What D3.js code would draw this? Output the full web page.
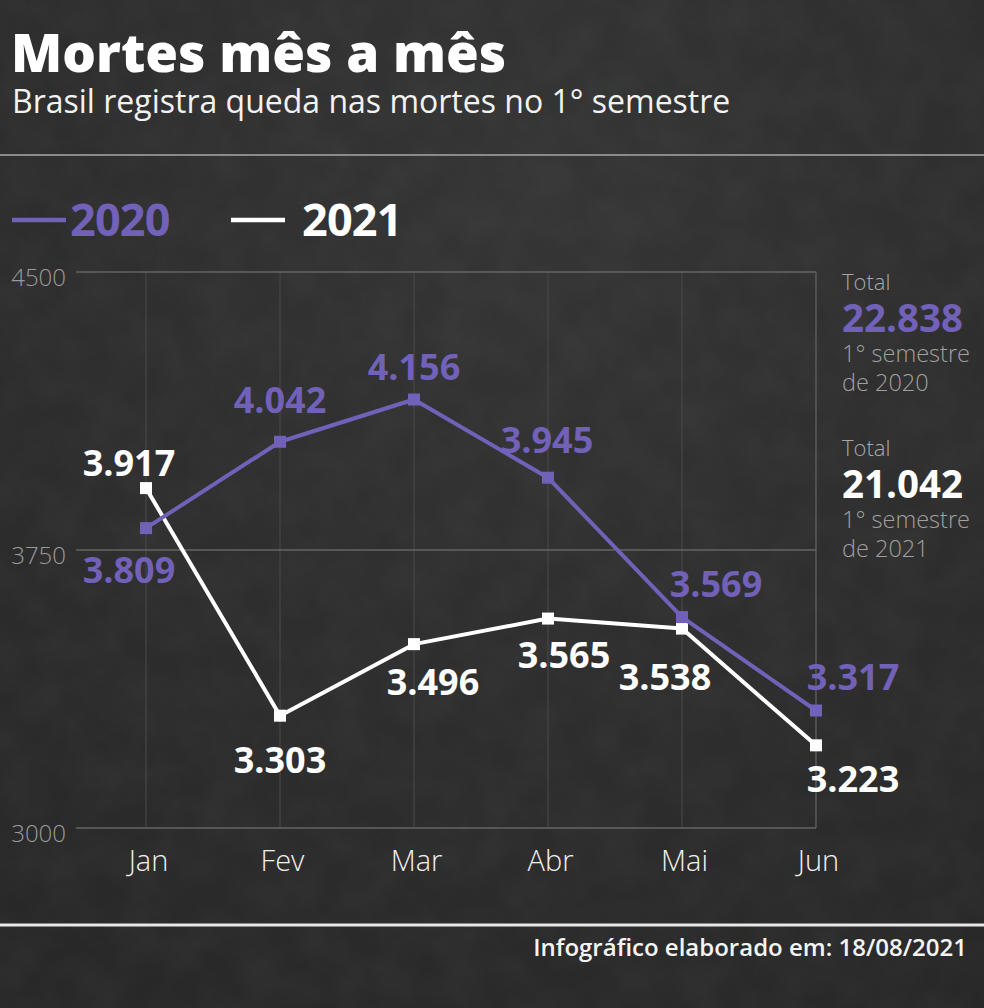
<!DOCTYPE html>
<html>
<head>
<meta charset="utf-8">
<script src="https://cdn.jsdelivr.net/npm/d3@7/dist/d3.min.js"></script>
<style>
  html, body { margin: 0; padding: 0; background: #2b2b2b; }
  svg { display: block; }
  text { font-family: "Open Sans", "Noto Sans", "DejaVu Sans", sans-serif; }
</style>
</head>
<body>
<svg id="chart" width="984" height="1008"></svg>
<script>
// ---- data ----
const months = ["Jan", "Fev", "Mar", "Abr", "Mai", "Jun"];
const deaths2020 = [3809, 4042, 4156, 3945, 3569, 3317];
const deaths2021 = [3917, 3303, 3496, 3565, 3538, 3223];
const yTicks = [3000, 3750, 4500];
const seriesNames = ["2020", "2021"];
const totals = ["22.838", "21.042"];
const title = "Mortes mês a mês";
const subtitle = "Brasil registra queda nas mortes no 1° semestre";
const footer = "Infográfico elaborado em: 18/08/2021";

// ---- layout (label offsets relative to each point: [dx, dy]) ----
const off2020 = [[-17, 55], [0, -29], [0, -20], [-1, -25], [34, -20], [37, -20]];
const off2021 = [[-17, -12], [0, 57], [19, 51], [16, 49], [-17, 61], [37, 47]];

const W = 984, H = 1008;
const PURPLE = "#7161b9";
const WHITE = "#ffffff";

const svg = d3.select("#chart");
const defs = svg.append("defs");

// background gradient + subtle chalk texture
const grad = defs.append("radialGradient").attr("id", "bg").attr("cx", "55%").attr("cy", "20%").attr("r", "90%");
grad.append("stop").attr("offset", "0%").attr("stop-color", "#353535");
grad.append("stop").attr("offset", "100%").attr("stop-color", "#282828");
const f = defs.append("filter").attr("id", "noise").attr("x", 0).attr("y", 0).attr("width", "100%").attr("height", "100%");
f.append("feTurbulence").attr("type", "fractalNoise").attr("baseFrequency", "0.025").attr("numOctaves", 4).attr("seed", 7).attr("result", "t");
f.append("feColorMatrix").attr("type", "matrix")
  .attr("values", "0 0 0 0 0.5  0 0 0 0 0.5  0 0 0 0 0.5  0.3 0 0 0 -0.08");
svg.append("rect").attr("width", W).attr("height", H).attr("fill", "url(#bg)");
svg.append("rect").attr("width", W).attr("height", H).attr("filter", "url(#noise)").attr("opacity", 0.25);

// ---- title ----
svg.append("text").attr("x", 11).attr("y", 72).attr("fill", "#fff")
  .attr("font-size", 53).attr("font-weight", 800).text(title);
svg.append("text").attr("x", 12).attr("y", 113).attr("fill", "#f2f2f2")
  .attr("font-size", 32).attr("font-weight", 400).text(subtitle);
svg.append("line").attr("x1", 0).attr("x2", W).attr("y1", 155).attr("y2", 155)
  .attr("stroke", "#8a8a8a").attr("stroke-width", 2);

// ---- legend ----
const legend = svg.append("g");
const legItems = [{ name: seriesNames[0], color: PURPLE, x: 12 }, { name: seriesNames[1], color: WHITE, x: 231 }];
legItems.forEach(d => {
  legend.append("line").attr("x1", d.x).attr("x2", d.x + 54).attr("y1", 220).attr("y2", 220)
    .attr("stroke", d.color).attr("stroke-width", 4.5);
  legend.append("text").attr("x", d.x + (d.name === "2020" ? 58 : 71)).attr("y", 236)
    .attr("fill", d.color).attr("font-size", 45).attr("font-weight", 700)
    .attr("letter-spacing", -0.8).text(d.name);
});

// ---- scales ----
const x = d3.scalePoint().domain(months).range([146, 816]);
const y = d3.scaleLinear().domain([3000, 4500]).range([828, 272]);

// grid
const grid = svg.append("g");
grid.selectAll("line.v").data(months).join("line").attr("class", "v")
  .attr("x1", d => x(d)).attr("x2", d => x(d)).attr("y1", y(4500)).attr("y2", y(3000))
  .attr("stroke", d => d === "Jun" ? "#666" : "#474747").attr("stroke-width", 1.2);
grid.selectAll("line.h").data(yTicks).join("line").attr("class", "h")
  .attr("x1", 76).attr("x2", x("Jun")).attr("y1", d => y(d)).attr("y2", d => y(d))
  .attr("stroke", "#646464").attr("stroke-width", 1.5);

// y axis
const yAxis = d3.axisLeft(y).tickValues(yTicks).tickSize(0).tickPadding(0).tickFormat(d3.format("d"));
const yg = svg.append("g").attr("transform", "translate(66,0)").call(yAxis);
yg.select(".domain").remove();
yg.selectAll("text").attr("fill", "#9a9a9a").attr("font-size", 24).attr("font-weight", 300)
  .attr("dy", "0.55em").attr("font-family", "'Open Sans', sans-serif");

// x axis
const xAxis = d3.axisBottom(x).tickSize(0).tickPadding(0);
const xg = svg.append("g").attr("transform", "translate(2,845)").call(xAxis);
xg.select(".domain").remove();
xg.selectAll("text").attr("fill", "#f0f0f0").attr("font-size", 29).attr("font-weight", 300)
  .attr("dy", "0.9em").attr("font-family", "'Open Sans', sans-serif");

// ---- series ----
const line = d3.line().x((d, i) => x(months[i])).y(d => y(d));
const series = [
  { vals: deaths2021, color: WHITE, off: off2021 },
  { vals: deaths2020, color: PURPLE, off: off2020 }
];
const fmt = v => d3.format(",")(v).replace(/,/g, ".");

series.forEach(s => {
  const g = svg.append("g");
  g.append("path").datum(s.vals).attr("d", line).attr("fill", "none")
    .attr("stroke", s.color).attr("stroke-width", 4).attr("stroke-linejoin", "round");
  g.selectAll("rect").data(s.vals).join("rect")
    .attr("x", (d, i) => x(months[i]) - 6).attr("y", d => y(d) - 6)
    .attr("width", 12).attr("height", 12).attr("fill", s.color);
});
series.forEach(s => {
  svg.append("g").selectAll("text").data(s.vals).join("text")
    .attr("x", (d, i) => x(months[i]) + s.off[i][0])
    .attr("y", (d, i) => y(d) + s.off[i][1])
    .attr("text-anchor", "middle").attr("fill", s.color)
    .attr("font-size", 36).attr("font-weight", 700).text(fmt);
});

// ---- right panel totals ----
const panel = svg.append("g").attr("transform", "translate(842,0)");
const blocks = [
  { total: totals[0], color: PURPLE, year: seriesNames[0], y0: 290 },
  { total: totals[1], color: WHITE, year: seriesNames[1], y0: 456 }
];
blocks.forEach(b => {
  panel.append("text").attr("x", 0).attr("y", b.y0).attr("fill", "#a8a8a8")
    .attr("font-size", 22).attr("font-weight", 300).text("Total");
  panel.append("text").attr("x", 0).attr("y", b.y0 + 42).attr("fill", b.color)
    .attr("font-size", 38.5).attr("font-weight", 700).text(b.total);
  panel.append("text").attr("x", 0).attr("y", b.y0 + 72).attr("fill", "#a0a0a0")
    .attr("font-size", 23.5).attr("font-weight", 300).text("1° semestre");
  panel.append("text").attr("x", 0).attr("y", b.y0 + 101).attr("fill", "#a0a0a0")
    .attr("font-size", 23.5).attr("font-weight", 300).text("de " + b.year);
});

// ---- footer ----
svg.append("line").attr("x1", 0).attr("x2", W).attr("y1", 925).attr("y2", 925)
  .attr("stroke", "#e8e8e8").attr("stroke-width", 3);
svg.append("text").attr("x", 967).attr("y", 956).attr("text-anchor", "end")
  .attr("fill", "#f4f4f4").attr("font-size", 24).attr("font-weight", 600).text(footer);
</script>
</body>
</html>
